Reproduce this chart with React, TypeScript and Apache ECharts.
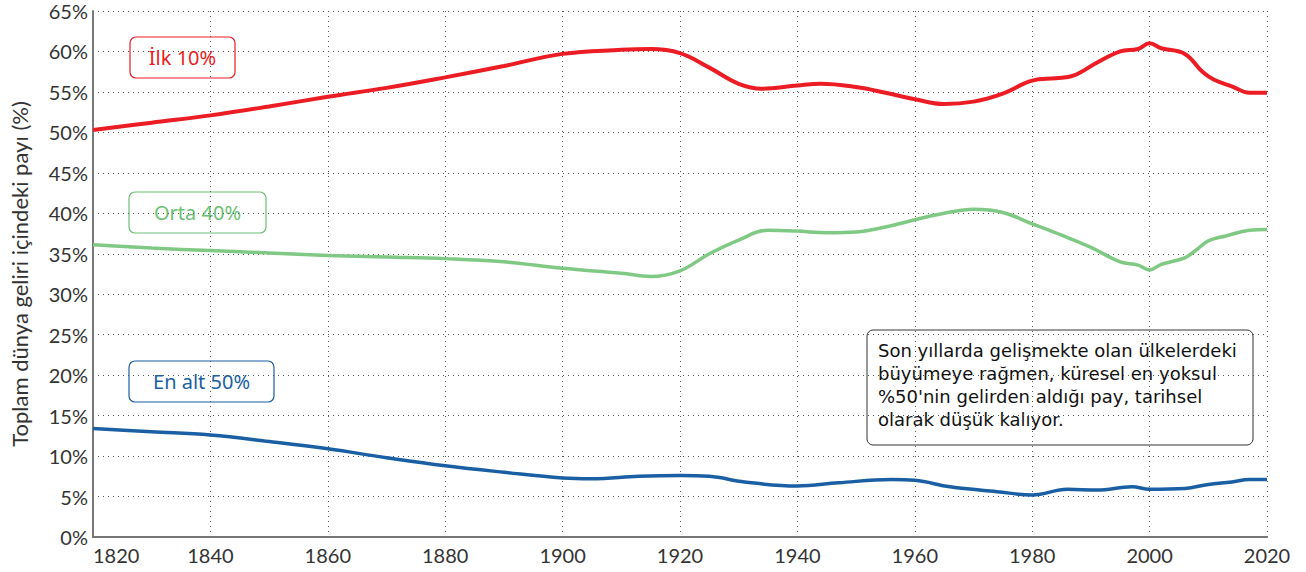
import React, { useEffect, useRef } from "react";
import * as echarts from "echarts";

const topYears = [1820, 1830, 1840, 1850, 1860, 1870, 1880, 1890, 1900, 1910, 1915, 1920, 1925, 1930, 1934, 1940, 1944, 1950, 1955, 1960, 1965, 1970, 1975, 1980, 1984, 1987, 1991, 1995, 1998, 2000, 2002, 2006, 2009, 2011, 2014, 2017, 2020];
const topVals = [50.3, 51.2, 52.1, 53.2, 54.4, 55.5, 56.8, 58.2, 59.7, 60.2, 60.3, 59.8, 58.0, 56.0, 55.4, 55.8, 56.0, 55.6, 54.9, 54.1, 53.5, 53.8, 54.8, 56.4, 56.7, 57.0, 58.6, 60.0, 60.3, 61.0, 60.4, 59.7, 57.5, 56.5, 55.7, 54.9, 54.9];

const midYears = [1820, 1830, 1840, 1850, 1860, 1870, 1880, 1890, 1900, 1910, 1915, 1920, 1925, 1930, 1935, 1940, 1945, 1950, 1955, 1960, 1965, 1970, 1975, 1980, 1985, 1990, 1995, 1998, 2000, 2002, 2006, 2008, 2010, 2013, 2017, 2020];
const midVals = [36.1, 35.7, 35.4, 35.1, 34.8, 34.6, 34.4, 34.0, 33.2, 32.6, 32.2, 32.9, 35.0, 36.7, 37.9, 37.8, 37.6, 37.7, 38.3, 39.2, 40.0, 40.5, 40.1, 38.7, 37.3, 35.8, 34.0, 33.6, 33.0, 33.7, 34.5, 35.5, 36.6, 37.2, 37.9, 38.0];

const botYears = [1820, 1830, 1840, 1850, 1860, 1870, 1880, 1890, 1900, 1905, 1913, 1920, 1925, 1931, 1940, 1947, 1956, 1960, 1966, 1974, 1980, 1986, 1991, 1997, 2000, 2006, 2010, 2014, 2017, 2020];
const botVals = [13.4, 13.0, 12.6, 11.8, 10.9, 9.8, 8.8, 8.0, 7.3, 7.2, 7.5, 7.6, 7.5, 6.8, 6.3, 6.7, 7.1, 7.0, 6.2, 5.6, 5.2, 5.9, 5.8, 6.2, 5.9, 6.0, 6.5, 6.8, 7.1, 7.1];

const xTicks = { min: 1820, max: 2020, interval: 20 };
const yTicks = { min: 0, max: 65, interval: 5 };

const seriesNames = ["İlk 10%", "Orta 40%", "En alt 50%"];
const colors = ["#ec1c24", "#80c985", "#1a5fa3"];
const yAxisName = "Toplam dünya geliri içindeki payı (%)";
const noteLines = [
  "Son yıllarda gelişmekte olan ülkelerdeki",
  "büyümeye rağmen, küresel en yoksul",
  "%50'nin gelirden aldığı pay, tarihsel",
  "olarak düşük kalıyor.",
];

const FONT = "Lato, 'Noto Sans', sans-serif";
const WIDE = "'Noto Sans', sans-serif";
const NOTE_FONT = "'DejaVu Sans', sans-serif";

function zip(xs: number[], ys: number[]) {
  return xs.map((x, i) => [x, ys[i]]);
}

function labelBox(text: string, color: string, x: number, y: number, w: number, h: number) {
  return {
    type: "group",
    x,
    y,
    children: [
      {
        type: "rect",
        shape: { x: 0, y: 0, width: w, height: h, r: 6 },
        style: { fill: "#fff", stroke: color, lineWidth: 1.2 },
      },
      {
        type: "text",
        x: w / 2,
        y: h / 2,
        style: {
          text,
          fill: color,
          fontSize: 20,
          fontFamily: WIDE,
          align: "center",
          verticalAlign: "middle",
        },
      },
    ],
  };
}

export default function App() {
  const ref = useRef<HTMLDivElement>(null);
  useEffect(() => {
    if (!ref.current) return;
    const chart = echarts.init(ref.current, undefined, { renderer: "svg" });
    const dotted = { show: true, lineStyle: { type: [1, 4] as any, color: "#555", width: 1 } };
    chart.setOption({
      animation: false,
      textStyle: { fontFamily: FONT },
      grid: { left: 91, right: 39, top: 11, bottom: 35, containLabel: false },
      xAxis: {
        type: "value",
        min: xTicks.min,
        max: xTicks.max,
        interval: xTicks.interval,
        axisLine: { show: true, lineStyle: { color: "#777", width: 2 } },
        axisTick: { show: false },
        axisLabel: { color: "#333", fontSize: 20, fontFamily: FONT, margin: 8, alignMinLabel: "left", formatter: (v: number) => String(v) },
        splitLine: dotted,
      },
      yAxis: {
        type: "value",
        min: yTicks.min,
        max: yTicks.max,
        interval: yTicks.interval,
        name: yAxisName,
        nameLocation: "middle",
        nameGap: 63,
        nameRotate: 90,
        nameTextStyle: { color: "#333", fontSize: 22, fontFamily: FONT },
        axisLine: { show: true, lineStyle: { color: "#777", width: 2 } },
        axisTick: { show: false },
        axisLabel: { color: "#333", fontSize: 20, fontFamily: FONT, margin: 5, formatter: "{value}%" },
        splitLine: dotted,
      },
      series: [
        { name: seriesNames[0], type: "line", data: zip(topYears, topVals), smooth: 0.4, showSymbol: false, lineStyle: { color: colors[0], width: 4 }, z: 3 },
        { name: seriesNames[1], type: "line", data: zip(midYears, midVals), smooth: 0.4, showSymbol: false, lineStyle: { color: colors[1], width: 3.5 }, z: 3 },
        { name: seriesNames[2], type: "line", data: zip(botYears, botVals), smooth: 0.4, showSymbol: false, lineStyle: { color: colors[2], width: 3.5 }, z: 3 },
      ],
      graphic: [
        labelBox(seriesNames[0], colors[0], 130, 37, 105, 41),
        labelBox(seriesNames[1], "#6cbf73", 129, 192, 137, 41),
        labelBox(seriesNames[2], colors[2], 129, 361, 145, 41),
        {
          type: "group",
          x: 867,
          y: 330,
          children: [
            {
              type: "rect",
              shape: { x: 0, y: 0, width: 386, height: 115, r: 6 },
              style: { fill: "#fff", stroke: "#333", lineWidth: 1 },
            },
            ...noteLines.map((t, i) => ({
              type: "text",
              x: 11,
              y: 20 + i * 23,
              style: { text: t, fill: "#111", fontSize: 18, fontFamily: NOTE_FONT, align: "left", verticalAlign: "middle" },
            })),
          ],
        },
      ],
    });
    return () => chart.dispose();
  }, []);
  return <div ref={ref} style={{ position: "fixed", left: 0, top: 0, width: 1306, height: 572, background: "#fff" }} />;
}
